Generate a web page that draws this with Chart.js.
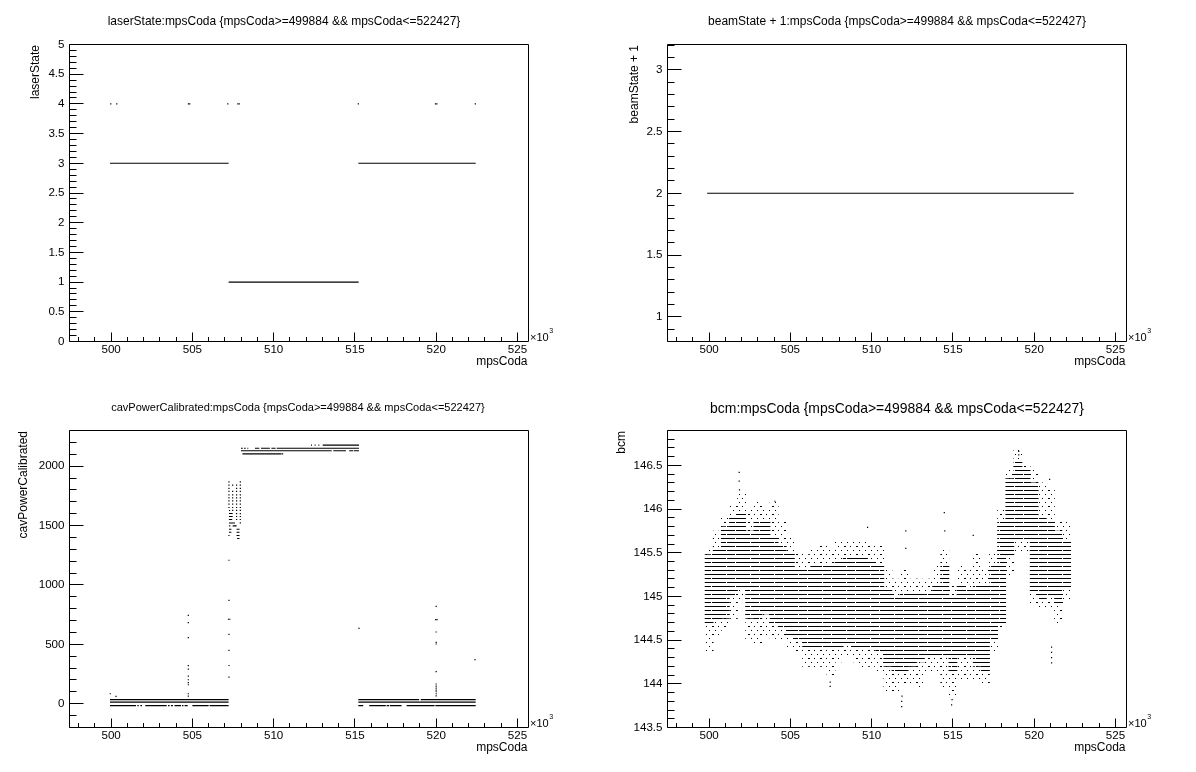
<!DOCTYPE html>
<html>
<head>
<meta charset="utf-8">
<script src="https://cdn.jsdelivr.net/npm/chart.js@4.4.1/dist/chart.umd.min.js"></script>
<style>
html,body{margin:0;padding:0;background:#fff;}
#wrap{position:relative;width:1196px;height:772px;background:#fff;overflow:hidden;}
#wrap canvas{position:absolute;}
</style>
</head>
<body>
<div id="wrap">
<canvas id="c1" width="598" height="386" style="left:0px;top:0px"></canvas>
<canvas id="c2" width="598" height="386" style="left:598px;top:0px"></canvas>
<canvas id="c3" width="598" height="386" style="left:0px;top:386px"></canvas>
<canvas id="c4" width="598" height="386" style="left:598px;top:386px"></canvas>
</div>
<script>
// ---------------- data (mpsCoda in units of 10^3) ----------------
const xTicks = [500, 505, 510, 515, 520, 525];
const laserTicks = [0, 0.5, 1, 1.5, 2, 2.5, 3, 3.5, 4, 4.5, 5];
const beamTicks = [1, 1.5, 2, 2.5, 3];
const cavTicks = [0, 500, 1000, 1500, 2000];
const bcmTicks = [143.5, 144, 144.5, 145, 145.5, 146, 146.5];

// laserState: runs of constant value [xStart, xEnd, value] and isolated points [x, value]
const laserRuns = [[499.93, 507.23, 3], [507.23, 515.23, 1], [515.21, 522.43, 3]];
const laserDots = [[499.98, 4], [500.35, 4], [504.76, 4], [504.84, 4], [507.18, 4], [507.80, 4], [507.88, 4],
                   [515.21, 4], [519.96, 4], [520.04, 4], [522.41, 4]];

// beamState + 1
const beamRuns = [[499.88, 522.43, 2]];

// cavPowerCalibrated
const cavHighRuns = [
  [512.30, 512.36, 2177], [512.52, 512.58, 2177], [512.75, 512.81, 2177], [513.02, 515.25, 2177],
  [507.99, 508.10, 2150], [508.18, 508.28, 2150], [508.38, 508.44, 2150], [508.85, 509.12, 2150],
  [509.22, 509.77, 2150], [509.86, 510.12, 2150], [510.19, 515.25, 2150],
  [507.99, 513.57, 2129], [513.67, 514.45, 2129], [514.65, 514.90, 2129], [514.94, 515.25, 2129],
  [508.08, 510.49, 2103]
];
const cavLowRuns = [
  [499.93, 507.23, 35], [515.21, 518.95, 35], [519.05, 522.43, 35],
  [499.93, 507.23, 14], [515.21, 522.43, 14],
  [499.93, 501.53, -16], [501.61, 501.70, -16], [501.80, 501.90, -16], [502.10, 503.42, -16],
  [503.50, 503.60, -16], [503.68, 503.80, -16], [503.90, 504.30, -16], [504.36, 504.45, -16],
  [504.52, 504.71, -16], [505.00, 506.00, -16], [506.06, 507.23, -16],
  [515.21, 515.51, -16], [515.88, 516.90, -16], [516.95, 517.10, -16], [517.15, 517.87, -16],
  [518.18, 519.90, -16], [519.95, 522.43, -16]
];
const cavRampRuns = [
  [507.25, 507.32, 1627], [507.25, 507.48, 1601], [507.25, 507.48, 1576], [507.25, 507.45, 1551],
  [507.25, 507.62, 1522], [507.48, 507.72, 1497], [507.25, 507.40, 1469], [507.72, 507.90, 1469],
  [507.25, 507.40, 1444], [507.72, 507.90, 1444], [507.72, 507.90, 1416], [507.75, 507.90, 1391]
];
const cavDots = [
  [507.25, 1868], [507.95, 1868],
  [507.25, 1840], [507.48, 1840], [507.72, 1840], [507.95, 1840],
  [507.25, 1812], [507.72, 1812], [507.95, 1812],
  [507.25, 1787], [507.48, 1787], [507.72, 1787], [507.95, 1787],
  [507.25, 1758], [507.48, 1758], [507.72, 1758], [507.95, 1758],
  [507.25, 1733], [507.48, 1733], [507.72, 1733], [507.95, 1733],
  [507.25, 1708], [507.48, 1708], [507.72, 1708], [507.95, 1708],
  [507.25, 1680], [507.48, 1680], [507.72, 1680], [507.95, 1680],
  [507.25, 1652], [507.48, 1652], [507.72, 1652], [507.95, 1652],
  [507.48, 1627], [507.72, 1627], [507.95, 1627],
  [507.72, 1601], [507.95, 1601], [507.72, 1576], [507.95, 1576],
  [507.72, 1551], [507.95, 1551], [507.95, 1522], [507.30, 1497], [507.25, 1416],
  [499.95, 84], [500.30, 62],
  [504.75, 744], [504.75, 683], [504.75, 556], [504.75, 320], [504.75, 292], [504.75, 233],
  [504.75, 202], [504.75, 177], [504.75, 160], [504.75, 84], [504.75, 64],
  [507.25, 1208], [507.25, 870], [507.22, 711], [507.30, 711], [507.25, 584], [507.25, 449],
  [507.25, 322], [507.25, 224],
  [515.25, 634],
  [520.00, 820], [519.97, 708], [520.05, 708], [520.00, 604], [520.00, 517], [520.00, 503],
  [520.00, 270], [520.00, 166], [520.00, 149], [520.00, 132], [520.00, 115], [520.00, 101],
  [520.00, 84], [520.00, 67],
  [522.39, 371], [510.55, 2103]
];

// bcm: per 0.5e3-wide slice of mpsCoda, the extent of the dense band and of the sparse fringe
const bcmX      = [500.0, 500.5, 501.0, 501.5, 502.0, 502.5, 503.0, 503.5, 504.0, 504.5, 505.0, 505.5, 506.0, 506.5, 507.0,
                   507.5, 508.0, 508.5, 509.0, 509.5, 510.0, 510.5, 511.0, 511.5, 512.0, 512.5, 513.0, 513.5, 514.0, 514.5,
                   515.0, 515.5, 516.0, 516.5, 517.0, 517.5, 518.0, 518.5, 519.0, 519.5, 520.0, 520.5, 521.0, 521.5, 522.0];
const bcmMax    = [145.55, 145.75, 145.92, 146.05, 146.20, 146.00, 146.10, 146.00, 146.10, 145.85, 145.67, 145.50, 145.48, 145.55, 145.60,
                   145.55, 145.63, 145.65, 145.65, 145.62, 145.60, 145.58, 145.30, 145.20, 145.30, 145.20, 145.20, 145.20, 145.38, 145.55,
                   145.15, 145.35, 145.30, 145.50, 145.30, 145.50, 146.00, 146.45, 146.68, 146.50, 146.47, 146.30, 146.25, 145.88, 145.88];
const bcmCoreHi = [145.48, 145.55, 145.80, 145.90, 145.95, 145.75, 145.85, 145.85, 145.70, 145.60, 145.50, 145.30, 145.30, 145.35, 145.35,
                   145.35, 145.40, 145.45, 145.45, 145.45, 145.40, 145.35, 145.10, 145.00, 145.05, 145.05, 145.05, 145.05, 145.15, 145.35,
                   145.00, 145.15, 145.10, 145.15, 145.15, 145.35, 145.85, 146.35, 146.55, 146.45, 146.30, 145.90, 145.85, 145.75, 145.65];
const bcmCoreLo = [144.68, 144.72, 144.75, 145.00, 145.10, 144.75, 144.72, 144.80, 144.68, 144.65, 144.55, 144.50, 144.40, 144.40, 144.42,
                   144.40, 144.40, 144.45, 144.40, 144.40, 144.42, 144.35, 144.20, 144.15, 144.15, 144.20, 144.25, 144.30, 144.30, 144.30,
                   144.15, 144.30, 144.30, 144.20, 144.15, 144.50, 144.70, 145.45, 145.65, 145.65, 145.05, 144.95, 145.00, 144.90, 145.10];
const bcmMin    = [144.35, 144.55, 144.62, 144.75, 144.95, 144.50, 144.45, 144.55, 144.52, 144.50, 144.40, 144.35, 144.20, 144.18, 144.20,
                   144.10, 144.25, 144.30, 144.25, 144.18, 144.20, 144.15, 143.90, 143.90, 144.00, 144.00, 143.95, 144.12, 144.12, 143.95,
                   143.85, 144.05, 144.05, 144.05, 144.00, 144.35, 144.65, 145.25, 145.50, 145.50, 144.90, 144.85, 144.85, 144.70, 144.95];
const bcmStray  = [[501.85, 146.42], [501.85, 146.32], [501.87, 146.22], [504.05, 146.09], [507.45, 144.02], [507.45, 143.97],
                   [509.75, 145.79], [511.85, 143.74], [511.85, 143.80], [511.87, 143.86], [512.10, 145.75], [512.10, 145.55],
                   [514.47, 145.96], [514.50, 145.75], [514.92, 143.76], [514.95, 143.82], [516.25, 145.70], [519.05, 146.66],
                   [519.05, 146.62], [520.95, 146.34], [521.07, 144.24], [521.07, 144.30], [521.07, 144.36], [521.07, 144.42]];

// ---------------- styling / helpers ----------------
const FONT = '"Liberation Sans", Arial, Helvetica, sans-serif';
Chart.defaults.font.family = FONT;
Chart.defaults.color = '#000';
const CUT = '{mpsCoda>=499884 && mpsCoda<=522427}';

function makePattern(w, h, rows) {
  const c = document.createElement('canvas');
  c.width = w; c.height = h;
  const g = c.getContext('2d');
  g.fillStyle = '#000';
  rows.forEach(r => r.runs.forEach(([a, b]) => g.fillRect(a, r.y, b - a, 1)));
  return g.createPattern(c, 'repeat');
}

function runDatasets(runs, lw) {
  return runs.map(r => ({
    type: 'scatter', showLine: true,
    data: [{x: r[0], y: r[2]}, {x: r[1], y: r[2]}],
    borderColor: '#000', borderWidth: lw || 1.1, pointRadius: 0, pointHoverRadius: 0, fill: false
  }));
}
function dotDataset(pts) {
  return {
    type: 'scatter', data: pts.map(p => ({x: p[0], y: p[1]})),
    pointStyle: 'rect', pointRadius: 0.85, pointBorderWidth: 0,
    backgroundColor: '#000', borderColor: '#000'
  };
}

const rootPad = {
  id: 'rootPad',
  afterDraw(chart, args, o) {
    const ctx = chart.ctx, a = chart.chartArea, xs = chart.scales.x, ys = chart.scales.y;
    ctx.save();
    ctx.strokeStyle = '#000'; ctx.fillStyle = '#000'; ctx.lineWidth = 1;
    ctx.beginPath();
    ctx.rect(a.left, a.top, a.right - a.left, a.bottom - a.top);
    const i0 = Math.ceil(xs.min / o.xMinor - 1e-6), i1 = Math.floor(xs.max / o.xMinor + 1e-6);
    for (let i = i0; i <= i1; i++) {
      const v = i * o.xMinor;
      const major = Math.abs(v / o.xMajor - Math.round(v / o.xMajor)) < 1e-6;
      const p = Math.floor(xs.getPixelForValue(v)) + 0.5;
      ctx.moveTo(p, a.bottom); ctx.lineTo(p, a.bottom - (major ? 9 : 4.5));
    }
    const j0 = Math.ceil(ys.min / o.yMinor - 1e-6), j1 = Math.floor(ys.max / o.yMinor + 1e-6);
    for (let j = j0; j <= j1; j++) {
      const v = j * o.yMinor;
      const major = Math.abs(v / o.yMajor - Math.round(v / o.yMajor)) < 1e-6;
      const p = Math.floor(ys.getPixelForValue(v)) + 0.5;
      ctx.moveTo(a.left, p); ctx.lineTo(a.left + (major ? 14 : 7), p);
    }
    ctx.stroke();

    ctx.textBaseline = 'alphabetic';
    // pad title, scaled to its measured width
    let fs = 12;
    ctx.font = fs + 'px ' + FONT;
    fs = fs * o.titleW / ctx.measureText(o.title).width;
    ctx.font = fs.toFixed(2) + 'px ' + FONT;
    ctx.textAlign = 'center';
    ctx.fillText(o.title, o.titleCx, o.titleBase);
    // x title
    ctx.font = '12px ' + FONT;
    ctx.textAlign = 'right';
    ctx.fillText('mpsCoda', a.right - 1, 364.5);
    // y title
    ctx.save();
    ctx.translate(o.yTitleX, a.top + 0.5);
    ctx.rotate(-Math.PI / 2);
    ctx.textAlign = 'right';
    ctx.fillText(o.yTitle, 0, 0);
    ctx.restore();
    // x10^3
    ctx.font = '11px ' + FONT;
    ctx.textAlign = 'left';
    ctx.fillText('\u00d710', a.right + 1.5, a.bottom - 0.5);
    const w = ctx.measureText('\u00d710').width;
    ctx.font = '7px ' + FONT;
    ctx.fillText('3', a.right + 2 + w, a.bottom - 8.2);
    ctx.restore();
  }
};

function makeChart(id, spec) {
  return new Chart(document.getElementById(id), {
    type: spec.type || 'scatter',
    data: {datasets: spec.datasets},
    options: {
      animation: false, responsive: false, devicePixelRatio: 1, events: [],
      layout: {padding: {left: 0, right: 69.5, top: 44.5, bottom: 0}},
      plugins: {legend: {display: false}, tooltip: {enabled: false}, title: {display: false}, rootPad: spec.pad},
      scales: {
        x: {
          type: 'linear', min: 497.44, max: 525.68, offset: false,
          afterFit: s => { s.height = 44.5; },
          afterBuildTicks: s => { s.ticks = xTicks.map(v => ({value: v})); },
          grid: {display: false, drawTicks: false}, border: {display: false},
          ticks: {font: {size: 11.6}, color: '#000', padding: 1, maxRotation: 0, autoSkip: false,
                  callback: v => String(Math.round(v))}
        },
        y: {
          type: 'linear', min: spec.yMin, max: spec.yMax, beginAtZero: false,
          afterFit: s => { s.width = 69.5; },
          afterBuildTicks: s => { s.ticks = spec.yTicks.map(v => ({value: v})); },
          grid: {display: false, drawTicks: false}, border: {display: false},
          ticks: {font: {size: 11.6}, color: '#000', padding: 5, autoSkip: false,
                  callback: v => String(Math.round(v * 1000) / 1000)}
        }
      }
    },
    plugins: [rootPad]
  });
}

// ---------------- pads ----------------
makeChart('c1', {
  yMin: 0, yMax: 5, yTicks: laserTicks,
  datasets: [...runDatasets(laserRuns), dotDataset(laserDots)],
  pad: {title: 'laserState:mpsCoda ' + CUT, titleW: 353, titleCx: 284, titleBase: 25,
        yTitle: 'laserState', yTitleX: 38.5, xMinor: 1, xMajor: 5, yMinor: 0.1, yMajor: 0.5}
});

makeChart('c2', {
  yMin: 0.8, yMax: 3.205, yTicks: beamTicks,
  datasets: runDatasets(beamRuns),
  pad: {title: 'beamState + 1:mpsCoda ' + CUT, titleW: 378, titleCx: 299, titleBase: 25,
        yTitle: 'beamState + 1', yTitleX: 39.5, xMinor: 1, xMajor: 5, yMinor: 0.1, yMajor: 0.5}
});

makeChart('c3', {
  yMin: -200, yMax: 2300, yTicks: cavTicks,
  datasets: [...runDatasets(cavHighRuns), ...runDatasets(cavLowRuns), ...runDatasets(cavRampRuns), dotDataset(cavDots)],
  pad: {title: 'cavPowerCalibrated:mpsCoda ' + CUT, titleW: 374, titleCx: 298, titleBase: 25,
        yTitle: 'cavPowerCalibrated', yTitleX: 27, xMinor: 1, xMajor: 5, yMinor: 100, yMajor: 500}
});

const densePattern = makePattern(24, 8, [
  {y: 0, runs: [[0, 17], [19, 24]]},
  {y: 4, runs: [[0, 8], [10, 24]]}
]);
const sparsePattern = makePattern(12, 8, [
  {y: 0, runs: [[0, 1], [6, 8]]},
  {y: 4, runs: [[3, 4], [9, 10]]}
]);

makeChart('c4', {
  type: 'bar',
  yMin: 143.5, yMax: 146.9, yTicks: bcmTicks,
  datasets: [
    dotDataset(bcmStray),
    {type: 'bar', grouped: false, data: bcmX.map((x, i) => ({x: x, y: [bcmCoreLo[i], bcmCoreHi[i]]})),
     backgroundColor: densePattern, borderWidth: 0, barPercentage: 1, categoryPercentage: 1},
    {type: 'bar', grouped: false, data: bcmX.map((x, i) => ({x: x, y: [bcmMin[i], bcmMax[i]]})),
     backgroundColor: sparsePattern, borderWidth: 0, barPercentage: 1, categoryPercentage: 1}
  ],
  pad: {title: 'bcm:mpsCoda ' + CUT, titleW: 374, titleCx: 299, titleBase: 26.7,
        yTitle: 'bcm', yTitleX: 26.5, xMinor: 1, xMajor: 5, yMinor: 0.1, yMajor: 0.5}
});
</script>
</body>
</html>
